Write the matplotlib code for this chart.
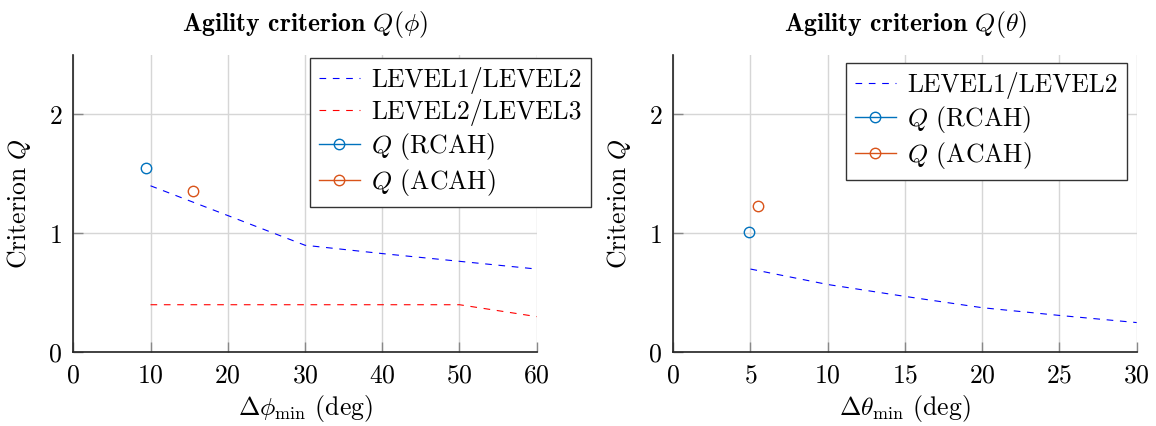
import numpy as np
import matplotlib
matplotlib.use("Agg")
import matplotlib.pyplot as plt
from matplotlib.lines import Line2D

# roll axis data
phi_lvl12_x = [10, 20, 30, 40, 50, 60]
phi_lvl12_q = [1.40, 1.15, 0.90, 0.83, 0.765, 0.70]
phi_lvl23_x = [10, 50, 60]
phi_lvl23_q = [0.40, 0.40, 0.30]
phi_rcah = (9.4, 1.55)
phi_acah = (15.5, 1.36)

# pitch axis data
theta_lvl12_x = [5, 10, 15, 20, 25, 30]
theta_lvl12_q = [0.70, 0.57, 0.47, 0.375, 0.31, 0.25]
theta_rcah = (4.9, 1.01)
theta_acah = (5.5, 1.23)

plt.rcParams['font.family'] = 'cmr10'
plt.rcParams['mathtext.fontset'] = 'cm'
plt.rcParams['axes.formatter.use_mathtext'] = True

FS = 18.5
C_RCAH = '#0072BD'
C_ACAH = '#D95319'
DASH = (6, 6)
MS = 7.5


def style_axes(ax, xmax, xticks):
    ax.set_xlim(0, xmax)
    ax.set_ylim(0, 2.5)
    ax.set_xticks(xticks)
    ax.set_yticks([0, 1, 2])
    ax.grid(True, color='#d6d6d6', linewidth=1.0)
    ax.set_axisbelow(True)
    for s in ['top', 'right']:
        ax.spines[s].set_visible(False)
    for s in ['left', 'bottom']:
        ax.spines[s].set_color('#222222')
        ax.spines[s].set_linewidth(1.2)
    ax.tick_params(direction='in', length=7, width=1.0, color='#888888',
                   labelsize=FS, pad=8)
    ax.set_ylabel('Criterion $Q$', fontsize=FS, labelpad=11)


def make_legend(ax, bbox):
    h, l = ax.get_legend_handles_labels()
    h_rcah = Line2D([], [], color=C_RCAH, marker='o', ms=MS, mfc='none',
                    mew=1.0, linewidth=1.0)
    h_acah = Line2D([], [], color=C_ACAH, marker='o', ms=MS, mfc='none',
                    mew=1.0, linewidth=1.0)
    leg = ax.legend(h + [h_rcah, h_acah],
                    l + ['$Q$ (RCAH)', '$Q$ (ACAH)'],
                    loc='upper right', bbox_to_anchor=bbox,
                    borderaxespad=0, fontsize=FS,
                    fancybox=False, framealpha=1, edgecolor='#333333',
                    handlelength=1.6, handletextpad=0.45, labelspacing=0.2,
                    borderpad=0.35)
    leg.get_frame().set_linewidth(1.0)
    return leg


fig = plt.figure(figsize=(11.56, 4.26), dpi=100)
ax1 = fig.add_axes([0.0634, 0.1730, 0.4009, 0.6980])
ax2 = fig.add_axes([0.5824, 0.1730, 0.4009, 0.6980])

# left panel
ax1.plot(phi_lvl12_x, phi_lvl12_q, color='blue', linewidth=0.8,
         dashes=DASH, label='LEVEL1/LEVEL2')
ax1.plot(phi_lvl23_x, phi_lvl23_q, color='red', linewidth=0.8,
         dashes=DASH, label='LEVEL2/LEVEL3')
ax1.plot([phi_rcah[0]], [phi_rcah[1]], 'o', ms=MS, mfc='none', mew=1.0,
         color=C_RCAH)
ax1.plot([phi_acah[0]], [phi_acah[1]], 'o', ms=MS, mfc='none', mew=1.0,
         color=C_ACAH)
style_axes(ax1, 60, [0, 10, 20, 30, 40, 50, 60])
ax1.set_xlabel(r'$\Delta\phi_{\min}$ (deg)', fontsize=FS, labelpad=4)
ax1.set_title(r'Agility criterion $Q(\phi)$', fontfamily='cmb10',
              fontsize=FS, pad=17)
make_legend(ax1, (1.117, 0.99))

# right panel
ax2.plot(theta_lvl12_x, theta_lvl12_q, color='blue', linewidth=0.8,
         dashes=DASH, label='LEVEL1/LEVEL2')
ax2.plot([theta_rcah[0]], [theta_rcah[1]], 'o', ms=MS, mfc='none', mew=1.0,
         color=C_RCAH)
ax2.plot([theta_acah[0]], [theta_acah[1]], 'o', ms=MS, mfc='none', mew=1.0,
         color=C_ACAH)
style_axes(ax2, 30, [0, 5, 10, 15, 20, 25, 30])
ax2.set_xlabel(r'$\Delta\theta_{\min}$ (deg)', fontsize=FS, labelpad=4)
ax2.set_title(r'Agility criterion $Q(\theta)$', fontfamily='cmb10',
              fontsize=FS, pad=17)
make_legend(ax2, (0.979, 0.974))

fig.savefig('out.png', dpi=100)
